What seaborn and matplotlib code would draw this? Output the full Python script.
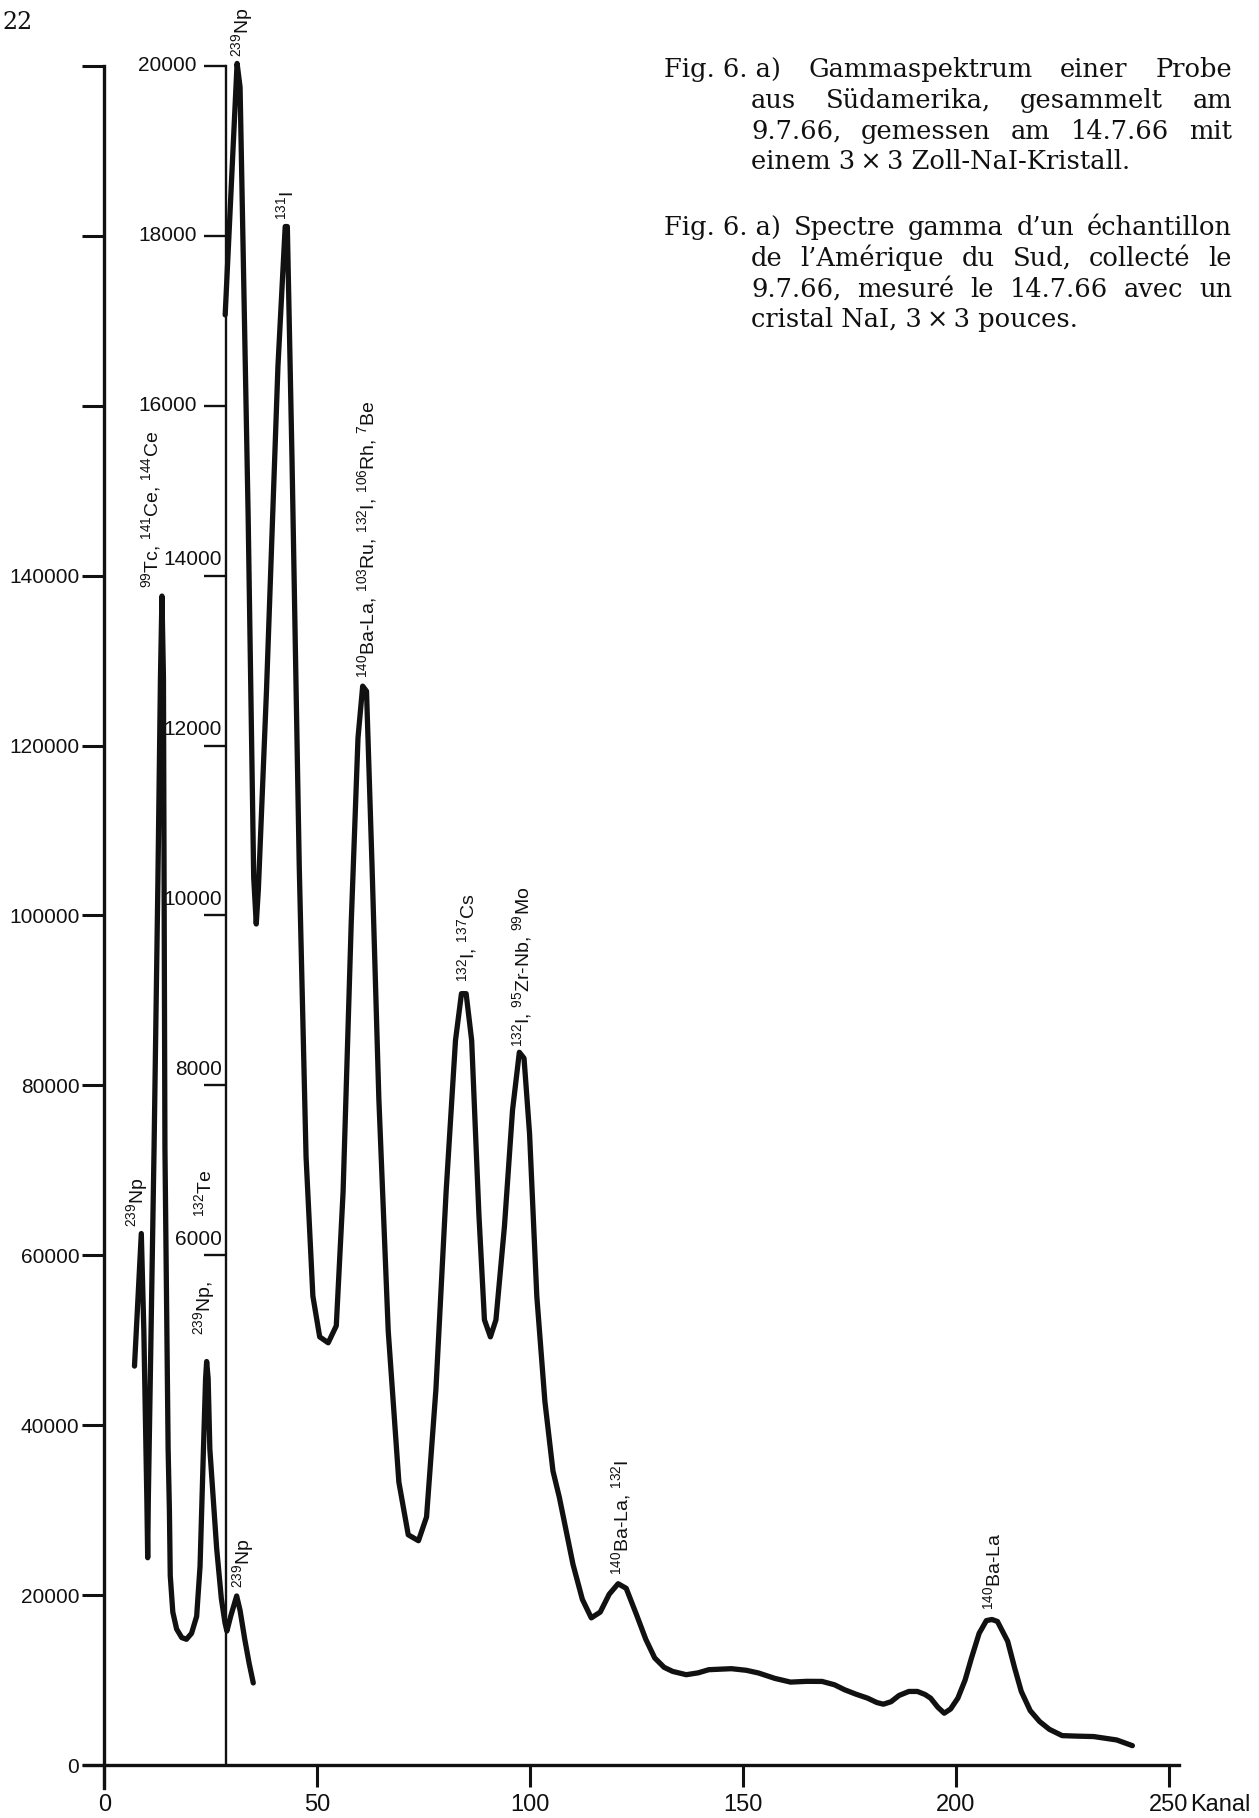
import matplotlib
matplotlib.use("Agg")
import matplotlib.pyplot as plt
import seaborn as sns

# ---- data -----------------------------------------------------------------
# main curve, read against the left scale (0 ... 200000)
kanal_a = [7.1, 8.7, 9.3, 10.0, 10.2, 10.35, 11.7, 12.6, 13.2, 13.55, 13.9, 14.25,
           15.0, 15.3, 15.5, 16.1, 17.0, 18.2, 19.3, 20.5, 21.7, 22.5, 23.3, 23.8,
           24.05, 24.4, 24.8, 25.6, 26.4, 27.5, 28.35, 28.8, 29.7, 31.1, 31.9, 33.0,
           34.0, 35.0]
counts_a = [46960, 62560, 51060, 31350, 24400, 31350, 72700, 104000, 128000, 137600,
            128000, 72700, 37200, 30000, 22300, 18000, 16000, 15000, 14800, 15500,
            17500, 23400, 37200, 45500, 47500, 45500, 37200, 31350, 25500, 19600,
            16760, 15770, 17520, 19900, 18200, 14800, 12050, 9660]

# second curve, read against the inner scale (6000 ... 20000)
kanal_b = [28.4, 31.2, 31.9, 33.8, 35.1, 35.7, 36.2, 38.1, 40.8, 42.5, 43.0, 44.1,
           45.8, 47.4, 49.0, 50.6, 52.6, 54.5, 56.1, 58.0, 59.6, 60.7, 61.6, 62.9,
           64.5, 66.7, 69.2, 71.4, 73.8, 75.7, 77.9, 80.3, 82.5, 83.9, 85.0, 86.3,
           88.0, 89.3, 90.7, 92.0, 94.0, 95.9, 97.5, 98.6, 99.9, 101.6, 103.5, 105.4,
           106.9, 110.1, 112.3, 114.4, 116.5, 118.6, 120.7, 122.6, 125.0, 127.2, 129.3,
           131.5, 133.5, 136.7, 139.5, 142.0, 147.3, 150.8, 153.7, 157.5, 161.2, 165.0,
           168.6, 171.5, 173.9, 176.5, 179.3, 181.5, 183.0, 184.8, 186.7, 189.0, 191.0,
           192.8, 194.1, 195.8, 197.3, 198.8, 200.5, 202.2, 203.7, 205.5, 207.2, 208.5,
           209.8, 212.2, 213.8, 215.4, 217.5, 219.7, 222.0, 225.0, 228.5, 232.4, 237.8,
           241.5]
counts_b = [17070, 20030, 19750, 14690, 10450, 9900, 10310, 12640, 16470, 18110, 18110,
            15370, 10580, 7160, 5520, 5040, 4970, 5170, 6750, 9900, 12090, 12700, 12640,
            10580, 7840, 5110, 3330, 2710, 2640, 2920, 4420, 6750, 8530, 9080, 9080, 8530,
            6480, 5240, 5040, 5240, 6340, 7710, 8390, 8320, 7430, 5520, 4280, 3460,
            3150, 2362, 1950, 1732, 1800, 2010, 2134, 2080, 1772, 1480, 1260,
            1150, 1102, 1063, 1085, 1122, 1134, 1115, 1083, 1020, 976, 985,
            984, 945, 886, 835, 787, 735, 716, 745, 819, 866, 866,
            830, 787, 680, 610, 660, 787, 1000, 1260, 1550, 1700, 1713,
            1690, 1457, 1150, 866, 640, 512, 420, 346, 340, 335, 295,
            228]
inner_scale = 10          # inner scale = left scale / 10
inner_axis_kanal = 28.7

x_ticks = [0, 50, 100, 150, 200, 250]
y_ticks = [0, 20000, 40000, 60000, 80000, 100000, 120000, 140000, 160000, 180000, 200000]
y_tick_labels = ["0", "20000", "40000", "60000", "80000", "100000", "120000", "140000", "", "", ""]
inner_ticks = [6000, 8000, 10000, 12000, 14000, 16000, 18000, 20000]

peak_texts = ["$^{239}$Np", "$^{131}$I", "$^{99}$Tc, $^{141}$Ce, $^{144}$Ce",
              "$^{140}$Ba-La, $^{103}$Ru, $^{132}$I, $^{106}$Rh, $^{7}$Be",
              "$^{132}$I, $^{137}$Cs", "$^{132}$I, $^{95}$Zr-Nb, $^{99}$Mo",
              "$^{239}$Np", "$^{239}$Np,", "$^{132}$Te", "$^{239}$Np",
              "$^{140}$Ba-La, $^{132}$I", "$^{140}$Ba-La"]
peak_kanal = [32.3, 42.8, 11.1, 61.8, 85.3, 98.1, 7.8, 23.4, 23.4, 32.6, 121.3, 208.8]
peak_counts = [201100, 181900, 138500, 127900, 92200, 84560, 63370, 50620, 64510,
               20840, 22370, 18250]

caption_de = [["Fig. 6. a)", "Gammaspektrum", "einer", "Probe"],
              ["aus", "Südamerika,", "gesammelt", "am"],
              ["9.7.66,", "gemessen", "am", "14.7.66", "mit"],
              ["einem 3\u2009×\u20093 Zoll-NaI-Kristall."]]
caption_fr = [["Fig. 6. a)", "Spectre", "gamma", "d’un", "échantillon"],
              ["de", "l’Amérique", "du", "Sud,", "collecté", "le"],
              ["9.7.66,", "mesuré", "le", "14.7.66", "avec", "un"],
              ["cristal NaI, 3\u2009×\u20093 pouces."]]

# ---- style ----------------------------------------------------------------
sns.set_theme(style="white")
plt.rcParams["font.family"] = ["Liberation Sans", "DejaVu Sans"]
plt.rcParams["mathtext.fontset"] = "custom"
plt.rcParams["mathtext.rm"] = "Liberation Sans"
plt.rcParams["mathtext.default"] = "regular"
INK = "#111111"
narrow = ["Liberation Sans Narrow", "Liberation Sans", "DejaVu Sans"]

fig = plt.figure(figsize=(12.59, 18.18), dpi=100)
ax = fig.add_axes([0.0490, 0.00578, 0.9130, 0.98129])
ax.patch.set_visible(False)
ax.set_xlim(-10, 260)
ax.set_ylim(-5000, 205000)

# curves
sns.lineplot(x=kanal_a, y=counts_a, ax=ax, color=INK, linewidth=3.8,
             sort=False, estimator=None, solid_joinstyle="round", solid_capstyle="round")
sns.lineplot(x=kanal_b, y=[c * inner_scale for c in counts_b], ax=ax, color=INK,
             linewidth=3.8, sort=False, estimator=None,
             solid_joinstyle="round", solid_capstyle="round")

# main axes
for s in ["top", "right"]:
    ax.spines[s].set_visible(False)
ax.spines["left"].set_position(("data", 0))
ax.spines["bottom"].set_position(("data", 0))
ax.spines["left"].set_bounds(-2700, 200000)
ax.spines["bottom"].set_bounds(-4.7, 252.5)
for s in ["left", "bottom"]:
    ax.spines[s].set_linewidth(2.4)
    ax.spines[s].set_color(INK)

ax.set_xticks(x_ticks, [str(t) for t in x_ticks], fontfamily=narrow, fontsize=17)
ax.set_yticks(y_ticks, y_tick_labels, fontsize=15)
ax.tick_params(axis="x", direction="out", length=15.6, width=2.2, pad=5, colors=INK,
               bottom=True)
ax.tick_params(axis="y", direction="out", length=15.6, width=2.2, pad=2.4, colors=INK,
               left=True)
ax.annotate("Kanal", xy=(255.0, 0), xytext=(0, -20.6), textcoords="offset points",
            ha="left", va="top", fontfamily=narrow, fontsize=17, color=INK)

# inner axis (second scale, values / 10)
sec = ax.secondary_yaxis(inner_axis_kanal, functions=(lambda y: y / inner_scale,
                                                      lambda y: y * inner_scale),
                         transform=ax.transData)
sec.set_alignment("left")
sec.spines["left"].set_bounds(0, 20000)
sec.spines["left"].set_linewidth(1.7)
sec.spines["left"].set_color(INK)
sec.set_yticks(inner_ticks)
sec.tick_params(axis="y", direction="out", length=16, width=1.7, colors=INK,
                labelleft=False)
for t in inner_ticks:
    if t >= 16000:
        ax.annotate(f"{t}", xy=(inner_axis_kanal, t * inner_scale), xytext=(-21.5, 0),
                    textcoords="offset points", ha="right", va="center",
                    fontsize=15, color=INK)
    else:
        ax.annotate(f"{t}", xy=(inner_axis_kanal, t * inner_scale), xytext=(-3.2, 4.5),
                    textcoords="offset points", ha="right", va="bottom",
                    fontsize=15, color=INK)

# nuclide labels
for s, k, c in zip(peak_texts, peak_kanal, peak_counts):
    ax.text(k, c, s, rotation=90, ha="center", va="bottom", fontsize=14,
            color=INK, clip_on=False)

# ---- page number and caption ----------------------------------------------
W, H = fig.bbox.width, fig.bbox.height
serif = ["DejaVu Serif", "Liberation Serif"]
fig.text(2 / W, 1 - 29 / H, "22", fontfamily=serif, fontsize=17, va="baseline",
         color=INK)

renderer = fig.canvas.get_renderer()
CAP_SIZE = 18.5


def caption_line(words, x0, x1, base, justify=True):
    objs = [fig.text(0, 1 - base / H, w, ha="left", va="baseline", fontfamily=serif,
                     fontsize=CAP_SIZE, color=INK) for w in words]
    widths = [o.get_window_extent(renderer).width for o in objs]
    space = CAP_SIZE * 0.32 * 100 / 72
    gap = space
    if justify and len(words) > 1:
        gap = max((x1 - x0 - sum(widths)) / (len(words) - 1), space * 0.6)
    x = x0
    for o, w in zip(objs, widths):
        o.set_x(x / W)
        x += w + gap


for block, first_base in [(caption_de, 77), (caption_fr, 235)]:
    for i, words in enumerate(block):
        x0 = 664 if i == 0 else 751
        caption_line(words, x0, 1232, first_base + 30.8 * i, justify=(i < 3))

fig.savefig("out.png", dpi=100)
